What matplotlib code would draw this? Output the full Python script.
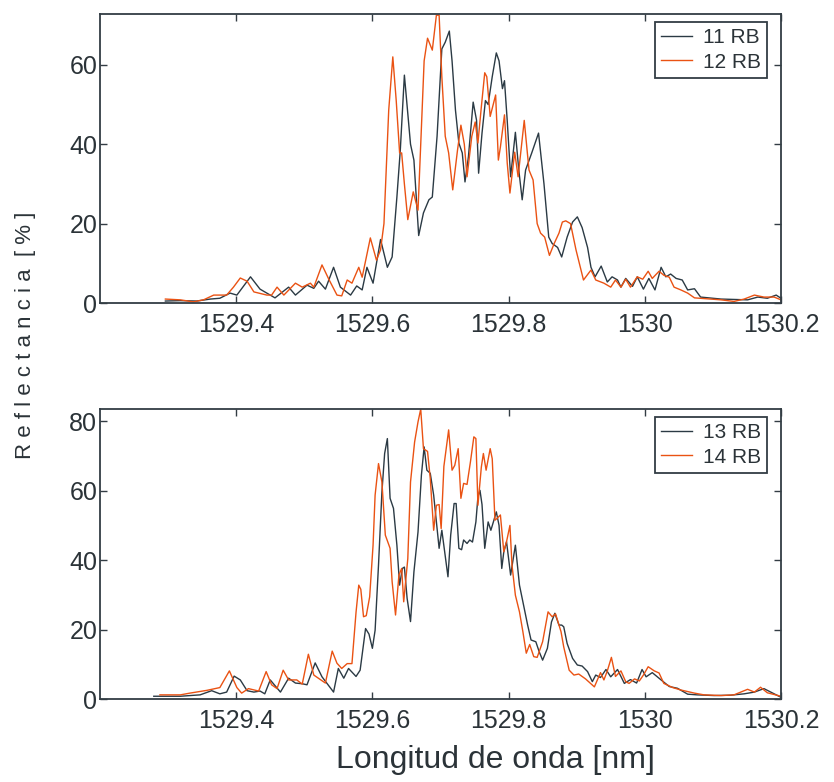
import matplotlib
matplotlib.use("Agg")
import matplotlib.pyplot as plt

plt.rcParams['font.family'] = ['Liberation Sans', 'DejaVu Sans']

# ---------------- data: top panel ----------------
wl_11 = [1529.296, 1529.318, 1529.342, 1529.362, 1529.376, 1529.391, 1529.401, 1529.421, 1529.435,
         1529.457, 1529.477, 1529.487, 1529.504, 1529.514, 1529.521, 1529.531, 1529.543, 1529.553,
         1529.568, 1529.577, 1529.585, 1529.592, 1529.601, 1529.612, 1529.622, 1529.629, 1529.636,
         1529.641, 1529.647, 1529.656, 1529.661, 1529.668, 1529.675, 1529.683, 1529.688, 1529.695,
         1529.702, 1529.707, 1529.713, 1529.717, 1529.722, 1529.727, 1529.732, 1529.736, 1529.741,
         1529.748, 1529.753, 1529.756, 1529.761, 1529.766, 1529.770, 1529.776, 1529.782, 1529.786,
         1529.791, 1529.794, 1529.798, 1529.803, 1529.810, 1529.815, 1529.820, 1529.825, 1529.834,
         1529.844, 1529.852, 1529.859, 1529.864, 1529.872, 1529.878, 1529.886, 1529.894, 1529.901,
         1529.908, 1529.916, 1529.921, 1529.927, 1529.936, 1529.945, 1529.952, 1529.960, 1529.965,
         1529.972, 1529.982, 1529.989, 1529.998, 1530.006, 1530.015, 1530.024, 1530.031, 1530.038,
         1530.046, 1530.055, 1530.063, 1530.073, 1530.082, 1530.112, 1530.151, 1530.166, 1530.180,
         1530.193, 1530.200]
r_11 = [0.5, 0.6, 0.5, 1.0, 1.2, 2.5, 2.0, 6.6, 3.5,
        1.3, 4.0, 2.0, 4.5, 3.7, 5.5, 3.5, 9.0, 4.0,
        2.0, 4.3, 3.3, 9.0, 5.0, 16.0, 9.0, 11.6, 26.7,
        38.5, 57.4, 40.0, 36.0, 17.0, 22.7, 26.0, 26.7, 42.0,
        64.0, 65.7, 68.5, 61.0, 48.6, 40.3, 37.8, 30.5, 36.8,
        50.6, 46.0, 32.7, 42.8, 51.0, 50.0, 57.0, 63.0, 61.0,
        54.0, 56.0, 46.0, 31.8, 43.0, 33.5, 26.0, 33.5, 37.8,
        42.8, 30.0, 16.6, 15.0, 14.0, 11.6, 16.6, 20.4, 21.7,
        19.0, 14.0, 9.0, 6.6, 9.3, 5.3, 6.6, 5.8, 4.0,
        6.2, 4.2, 6.6, 3.5, 6.2, 3.3, 9.0, 6.6, 7.3,
        6.2, 5.8, 3.3, 3.6, 1.5, 1.0, 0.8, 1.5, 1.2,
        2.0, 1.2]

wl_12 = [1529.296, 1529.318, 1529.337, 1529.352, 1529.367, 1529.386, 1529.396, 1529.406, 1529.416,
         1529.426, 1529.445, 1529.452, 1529.460, 1529.470, 1529.487, 1529.497, 1529.509, 1529.514,
         1529.526, 1529.536, 1529.548, 1529.555, 1529.563, 1529.570, 1529.580, 1529.585, 1529.597,
         1529.606, 1529.612, 1529.617, 1529.624, 1529.630, 1529.635, 1529.640, 1529.643, 1529.647,
         1529.652, 1529.660, 1529.667, 1529.671, 1529.676, 1529.681, 1529.688, 1529.694, 1529.698,
         1529.702, 1529.707, 1529.712, 1529.718, 1529.725, 1529.730, 1529.735, 1529.739, 1529.746,
         1529.751, 1529.755, 1529.760, 1529.765, 1529.768, 1529.773, 1529.781, 1529.785, 1529.788,
         1529.794, 1529.798, 1529.802, 1529.809, 1529.814, 1529.823, 1529.830, 1529.836, 1529.842,
         1529.847, 1529.853, 1529.860, 1529.867, 1529.874, 1529.879, 1529.884, 1529.891, 1529.899,
         1529.910, 1529.921, 1529.928, 1529.940, 1529.950, 1529.957, 1529.965, 1529.972, 1529.979,
         1529.989, 1529.997, 1530.005, 1530.011, 1530.021, 1530.028, 1530.036, 1530.043, 1530.053,
         1530.063, 1530.073, 1530.112, 1530.131, 1530.146, 1530.161, 1530.175, 1530.190, 1530.200]
r_12 = [1.0, 0.8, 0.3, 0.8, 2.0, 2.0, 4.0, 6.3, 5.5,
        2.8, 2.0, 2.0, 4.0, 2.0, 5.0, 4.0, 5.0, 4.0,
        9.6, 6.0, 2.0, 1.8, 5.8, 5.0, 9.0, 6.5, 16.4,
        10.8, 13.4, 20.0, 48.6, 62.0, 51.0, 37.8, 37.8, 30.0,
        21.0, 28.0, 23.4, 40.0, 61.0, 66.7, 63.7, 72.5, 72.5,
        57.0, 42.0, 37.8, 28.5, 38.5, 44.8, 40.0, 31.8, 42.0,
        45.6, 40.3, 49.4, 58.0, 57.0, 47.0, 52.4, 36.0, 39.3,
        47.4, 35.3, 27.7, 38.0, 31.8, 46.0, 33.5, 31.0, 20.0,
        17.6, 16.6, 12.0, 15.0, 17.6, 20.4, 20.7, 20.0, 13.4,
        5.8, 8.3, 5.8, 5.0, 4.0, 5.8, 4.0, 6.0, 4.0,
        6.6, 6.0, 8.0, 6.2, 8.0, 7.0, 6.5, 4.0, 3.3,
        2.5, 1.3, 0.8, 0.4, 1.0, 2.0, 1.5, 1.5, 0.8]

# ---------------- data: bottom panel ----------------
wl_13 = [1529.279, 1529.318, 1529.347, 1529.364, 1529.376, 1529.386, 1529.397, 1529.406, 1529.416,
         1529.426, 1529.435, 1529.442, 1529.450, 1529.456, 1529.465, 1529.477, 1529.487, 1529.497,
         1529.504, 1529.516, 1529.526, 1529.543, 1529.550, 1529.558, 1529.565, 1529.576, 1529.582,
         1529.590, 1529.595, 1529.600, 1529.604, 1529.609, 1529.614, 1529.618, 1529.622, 1529.626,
         1529.631, 1529.636, 1529.640, 1529.644, 1529.647, 1529.651, 1529.656, 1529.661, 1529.667,
         1529.672, 1529.676, 1529.680, 1529.685, 1529.690, 1529.698, 1529.702, 1529.711, 1529.715,
         1529.720, 1529.723, 1529.727, 1529.731, 1529.734, 1529.739, 1529.743, 1529.747, 1529.752,
         1529.755, 1529.758, 1529.761, 1529.765, 1529.770, 1529.774, 1529.778, 1529.782, 1529.786,
         1529.790, 1529.793, 1529.797, 1529.803, 1529.810, 1529.816, 1529.823, 1529.828, 1529.833,
         1529.840, 1529.845, 1529.850, 1529.857, 1529.863, 1529.868, 1529.874, 1529.878, 1529.881,
         1529.886, 1529.894, 1529.901, 1529.908, 1529.916, 1529.923, 1529.928, 1529.935, 1529.943,
         1529.950, 1529.960, 1529.970, 1529.979, 1529.988, 1529.996, 1530.002, 1530.011, 1530.024,
         1530.036, 1530.048, 1530.063, 1530.077, 1530.102, 1530.126, 1530.146, 1530.161, 1530.175,
         1530.190, 1530.200]
r_13 = [0.8, 0.8, 1.2, 2.4, 1.5, 2.0, 6.6, 5.5, 2.4,
        2.0, 2.3, 1.5, 5.5, 4.1, 2.0, 6.0, 4.6, 4.4,
        4.1, 10.4, 6.4, 2.0, 8.8, 6.0, 8.8, 6.5, 8.3,
        20.3, 18.7, 14.6, 19.8, 38.6, 59.6, 70.7, 75.0, 57.8,
        54.9, 44.3, 32.8, 37.6, 38.0, 29.0, 22.3, 36.6, 48.1,
        64.5, 72.6, 65.9, 65.0, 58.7, 43.4, 48.6, 35.2, 47.2,
        56.3, 56.3, 43.4, 43.0, 45.8, 44.8, 45.8, 45.2, 51.0,
        58.2, 60.1, 56.0, 43.4, 51.0, 48.6, 51.2, 53.9, 50.0,
        37.6, 42.4, 45.3, 35.7, 44.3, 32.8, 26.1, 21.3, 17.0,
        16.5, 13.6, 11.2, 14.6, 22.2, 24.7, 21.3, 21.3, 20.8,
        16.0, 11.7, 9.8, 9.5, 7.9, 5.0, 6.9, 6.2, 8.5,
        6.4, 8.5, 4.5, 5.6, 4.6, 8.5, 6.4, 7.6, 5.5,
        3.6, 3.1, 1.4, 1.2, 1.0, 1.1, 1.5, 2.0, 3.0,
        1.5, 0.5]

wl_14 = [1529.288, 1529.318, 1529.332, 1529.357, 1529.376, 1529.390, 1529.401, 1529.408, 1529.418,
         1529.433, 1529.444, 1529.452, 1529.460, 1529.469, 1529.477, 1529.489, 1529.497, 1529.506,
         1529.514, 1529.531, 1529.541, 1529.548, 1529.555, 1529.563, 1529.570, 1529.576, 1529.580,
         1529.583, 1529.587, 1529.591, 1529.596, 1529.601, 1529.604, 1529.609, 1529.614, 1529.619,
         1529.626, 1529.629, 1529.634, 1529.639, 1529.643, 1529.646, 1529.652, 1529.656, 1529.662,
         1529.667, 1529.671, 1529.675, 1529.681, 1529.685, 1529.690, 1529.694, 1529.698, 1529.701,
         1529.705, 1529.712, 1529.717, 1529.721, 1529.726, 1529.730, 1529.734, 1529.739, 1529.744,
         1529.749, 1529.752, 1529.755, 1529.760, 1529.763, 1529.767, 1529.773, 1529.776, 1529.780,
         1529.783, 1529.788, 1529.793, 1529.797, 1529.802, 1529.805, 1529.810, 1529.816, 1529.821,
         1529.826, 1529.831, 1529.837, 1529.842, 1529.850, 1529.858, 1529.864, 1529.869, 1529.877,
         1529.881, 1529.889, 1529.896, 1529.903, 1529.913, 1529.926, 1529.935, 1529.940, 1529.945,
         1529.951, 1529.957, 1529.965, 1529.972, 1529.977, 1529.985, 1529.992, 1529.998, 1530.005,
         1530.014, 1530.021, 1530.028, 1530.041, 1530.053, 1530.073, 1530.087, 1530.112, 1530.131,
         1530.151, 1530.161, 1530.170, 1530.180, 1530.200]
r_14 = [1.2, 1.2, 1.7, 2.5, 3.3, 8.1, 3.3, 1.7, 3.0,
        2.3, 7.9, 4.1, 3.0, 8.3, 5.5, 5.5, 4.3, 12.9,
        6.9, 4.6, 13.8, 10.3, 8.8, 10.2, 10.2, 25.0, 32.8,
        31.6, 23.7, 24.0, 29.4, 44.3, 58.7, 67.8, 62.5, 47.2,
        43.4, 33.8, 24.2, 35.7, 37.6, 28.0, 40.4, 62.5, 74.0,
        79.8, 83.5, 72.1, 71.3, 63.5, 48.6, 55.8, 56.0, 49.1,
        67.0, 77.5, 65.9, 67.3, 72.1, 57.8, 62.1, 61.8, 68.3,
        75.5, 75.0, 55.8, 66.8, 70.7, 65.9, 72.1, 69.2, 51.5,
        52.0, 53.0, 42.4, 45.3, 50.0, 38.6, 29.9, 25.1, 19.4,
        13.2, 15.7, 12.2, 12.0, 16.5, 25.1, 23.7, 24.5, 19.4,
        15.0, 8.3, 6.9, 7.2, 5.8, 3.5, 7.6, 5.5, 8.1,
        12.0, 6.5, 8.1, 5.0, 4.5, 5.8, 5.2, 6.9, 9.3,
        8.1, 7.5, 4.5, 3.3, 2.6, 1.7, 1.2, 1.0, 1.2,
        2.8, 2.0, 3.4, 1.8, 0.8]

xticks = [1529.4, 1529.6, 1529.8, 1530.0, 1530.2]
xticklabels = ["1529.4", "1529.6", "1529.8", "1530", "1530.2"]
yticks_top = [0, 20, 40, 60]
yticks_bot = [0, 20, 40, 60, 80]

DARK = "#2b3a44"
ORANGE = "#ea5213"
FRAME = "#333d44"
TEXT = "#2b3338"

fig = plt.figure(figsize=(8.34, 7.82), dpi=100)
ax1 = fig.add_axes([0.1199, 0.6125, 0.8165, 0.3696])
ax2 = fig.add_axes([0.1199, 0.1061, 0.8165, 0.3708])

panels = [
    (ax1, wl_11, r_11, "11 RB", wl_12, r_12, "12 RB", yticks_top, 72.8),
    (ax2, wl_13, r_13, "13 RB", wl_14, r_14, "14 RB", yticks_bot, 83.5),
]
for ax, xa, ya, la, xb, yb, lb, yt, ymax in panels:
    ax.plot(xa, ya, color=DARK, lw=1.0, label=la)
    ax.plot(xb, yb, color=ORANGE, lw=1.0, label=lb)
    ax.set_xlim(1529.2, 1530.2)
    ax.set_ylim(0, ymax)
    ax.set_xticks(xticks)
    ax.set_xticklabels(xticklabels)
    ax.set_yticks(yt)
    ax.tick_params(direction='in', length=5, width=1, top=True, right=True,
                   labelsize=18, colors=FRAME, labelcolor=TEXT)
    ax.tick_params(axis='x', pad=7)
    ax.tick_params(axis='y', pad=2)
    for s in ax.spines.values():
        s.set_color(FRAME)
        s.set_linewidth(1.3)
    leg = ax.legend(loc='upper right', bbox_to_anchor=(0.9794, 0.972), fontsize=15,
                    frameon=True, fancybox=False, framealpha=1, edgecolor=FRAME,
                    handlelength=1.5, handletextpad=0.5, borderpad=0.3,
                    labelspacing=0.25, borderaxespad=0)
    leg.get_frame().set_linewidth(1.3)
    for t in leg.get_texts():
        t.set_color(TEXT)

fig.text(0.030, 0.5716, "R e f l e c t a n c i a  [ % ]", rotation=90,
         ha='center', va='center', fontsize=16, color=TEXT)
fig.text(0.5936, 0.028, "Longitud de onda [nm]", ha='center', va='center',
         fontsize=23, color=TEXT)

fig.savefig("out.png", dpi=100)
